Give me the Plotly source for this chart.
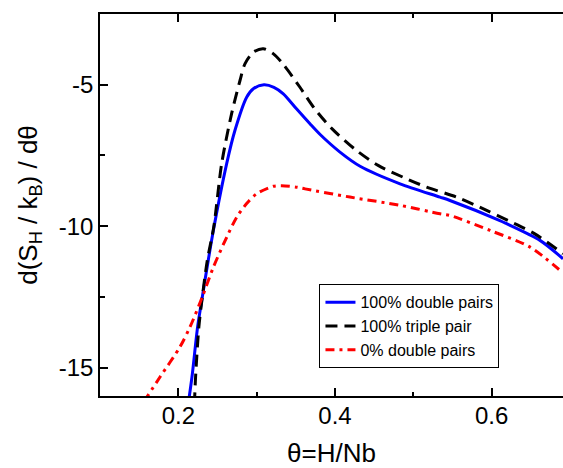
import plotly.graph_objects as go

# 100% double pairs (blue solid)
theta_double = [0.2125, 0.2174, 0.2246, 0.2306, 0.2382, 0.2447, 0.2617, 0.2723, 0.2872, 0.2957,
                0.3093, 0.322, 0.334, 0.3511, 0.368, 0.381, 0.4063, 0.432, 0.483, 0.534, 0.5467,
                0.6105, 0.619, 0.6616, 0.691]
val_double = [-16.3, -15.33, -13.56, -12.5, -11.2, -10.15, -7.79, -6.61, -5.44, -5.14,
              -5.0, -5.09, -5.32, -5.86, -6.38, -6.76, -7.38, -7.88, -8.50, -8.97, -9.09,
              -9.80, -9.91, -10.5, -11.15]

# 100% triple pair (black dashed)
theta_triple = [0.2205, 0.222, 0.2262, 0.2306, 0.2370, 0.2452, 0.2553, 0.268, 0.2787, 0.285,
                0.2957, 0.3085, 0.321, 0.334, 0.355, 0.374, 0.396, 0.4255, 0.455, 0.487, 0.517,
                0.555, 0.5935, 0.621, 0.655, 0.691]
val_triple = [-16.3, -15.33, -13.56, -12.5, -11.2, -10.03, -7.79, -6.02, -4.85, -4.26,
              -3.85, -3.73, -3.90, -4.28, -5.08, -5.85, -6.55, -7.28, -7.85, -8.27, -8.62,
              -8.97, -9.44, -9.80, -10.27, -10.97]

# 0% double pairs (red dash-dot)
theta_zero = [0.156, 0.1766, 0.202, 0.2149, 0.2306, 0.2447, 0.2617, 0.2745, 0.2872, 0.300,
              0.3212, 0.332, 0.351, 0.3617, 0.419, 0.483, 0.534, 0.5467, 0.598, 0.649, 0.691]
val_zero = [-16.2, -15.33, -14.27, -13.56, -12.5, -11.45, -10.39, -9.68, -9.2, -8.85,
            -8.59, -8.57, -8.62, -8.68, -8.97, -9.26, -9.56, -9.62, -10.15, -10.74, -11.65]

x_tickvals = [0.2, 0.4, 0.6]
x_ticktext = ["0.2", "0.4", "0.6"]
y_tickvals = [-5, -10, -15]
y_ticktext = ["-5", "-10", "-15"]

FONT = "Liberation Sans, Arial, sans-serif"

fig = go.Figure()
fig.add_trace(go.Scatter(x=theta_double, y=val_double, mode="lines",
                         name="100% double pairs",
                         line=dict(color="#0000ff", width=3, shape="spline", smoothing=0.8)))
fig.add_trace(go.Scatter(x=theta_triple, y=val_triple, mode="lines",
                         name="100% triple pair",
                         line=dict(color="#000000", width=3, dash="12px,7px", shape="spline", smoothing=0.8)))
fig.add_trace(go.Scatter(x=theta_zero, y=val_zero, mode="lines",
                         name="0% double pairs",
                         line=dict(color="#ff0000", width=3, dash="9px,5px,3px,5px", shape="spline", smoothing=0.8)))

fig.update_layout(
    width=563, height=468,
    margin=dict(l=100, r=0, t=14, b=72, autoexpand=False),
    paper_bgcolor="white", plot_bgcolor="white",
    font=dict(family=FONT, color="black"),
    showlegend=True,
    legend=dict(x=0.474, y=0.2926, xanchor="left", yanchor="top",
                bgcolor="white", bordercolor="black", borderwidth=1,
                font=dict(size=16, family=FONT, color="black"),
                tracegroupgap=0, itemwidth=30),
)
fig.update_xaxes(
    range=[0.1, 0.691], showgrid=False, zeroline=False,
    showline=True, linecolor="black", linewidth=1.5, mirror="ticks",
    ticks="inside", ticklen=8, tickwidth=1.5, tickcolor="black",
    tickvals=x_tickvals, ticktext=x_ticktext, ticklabelstandoff=-3,
    tickfont=dict(size=24, family=FONT, color="black"),
    minor=dict(tickvals=[0.1, 0.3, 0.5], ticks="inside", ticklen=4, tickwidth=1.5, tickcolor="black"),
    title=dict(text="θ=H/Nb", font=dict(size=26, family=FONT, color="black"), standoff=28),
)
fig.update_yaxes(
    range=[-16, -2.5], showgrid=False, zeroline=False,
    showline=True, linecolor="black", linewidth=1.5, mirror=False,
    ticks="inside", ticklen=8, tickwidth=1.5, tickcolor="black",
    tickvals=y_tickvals, ticktext=y_ticktext,
    tickfont=dict(size=24, family=FONT, color="black"),
    minor=dict(tickvals=[-7.5, -12.5], ticks="inside", ticklen=5, tickwidth=1.5, tickcolor="black"),
    title=dict(text="d(S<sub>H</sub> / k<sub>B</sub>) / dθ", font=dict(size=26, family=FONT, color="black"), standoff=14),
)

# Remove the browser's default 8px body margin so the 563x468 figure fills the window exactly.
fig.write_html("out.html",
               config={"displayModeBar": False},
               post_script="document.body.style.margin='0';document.body.style.overflow='hidden';")
